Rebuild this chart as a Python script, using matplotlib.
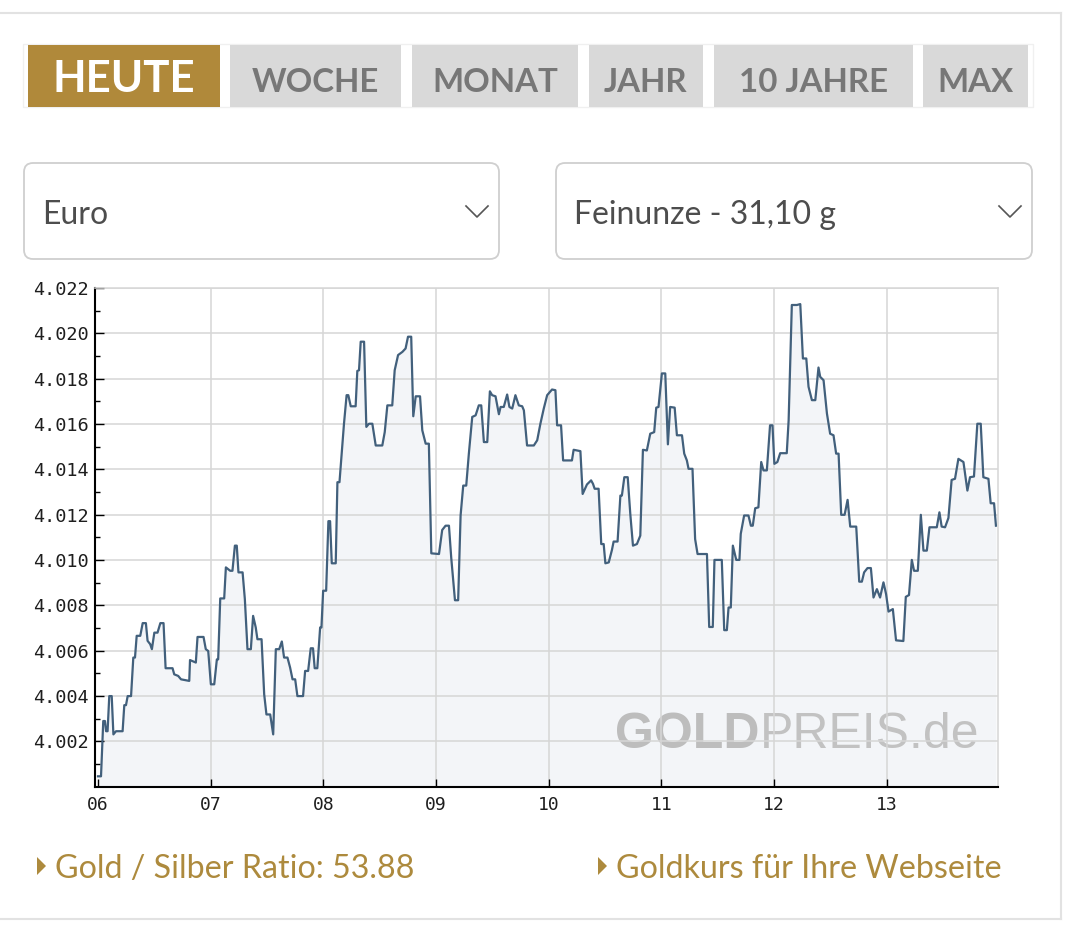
import matplotlib
matplotlib.use("Agg")
import matplotlib.pyplot as plt
from matplotlib.patches import Rectangle, FancyBboxPatch, Polygon

#------------------------------------------------------------------------------------#

# Goldkurs heute (Euro je Feinunze, in Tausend), Zeit in Minuten ab 06:00
minuten = [
    0.0, 1.6, 2.8, 3.7, 4.3, 5.1, 6.0, 7.3, 8.2, 9.6,
    13.1, 14.0, 14.9, 15.8, 17.6, 18.8, 19.7, 20.6, 22.5, 23.8,
    25.5, 26.4, 27.8, 28.7, 30.0, 31.7, 33.2, 34.9, 36.0, 39.7,
    40.6, 42.7, 44.2, 48.6, 49.0, 52.1, 53.0, 56.2, 57.4, 58.7,
    60.1, 61.9, 63.3, 64.0, 65.1, 67.2, 68.1, 70.4, 71.6, 72.9,
    73.9, 74.8, 77.0, 78.2, 79.6, 81.4, 82.6, 84.0, 84.9, 87.1,
    88.5, 89.7, 91.7, 93.3, 94.7, 96.5, 97.9, 99.1, 100.9, 102.3,
    103.6, 105.0, 106.2, 109.2, 110.3, 111.9, 113.3, 114.5, 115.4, 116.8,
    118.3, 119.0, 119.9, 121.5, 122.7, 123.6, 124.5, 126.6, 127.5, 128.6,
    131.0, 132.4, 133.3, 134.6, 137.2, 138.1, 139.0, 139.9, 141.7, 142.9,
    144.3, 146.1, 147.9, 151.4, 152.7, 154.1, 156.7, 158.0, 159.8, 162.1,
    163.8, 165.1, 166.8, 167.9, 169.2, 171.5, 172.7, 174.5, 176.2, 177.5,
    181.6, 183.3, 185.1, 186.9, 188.1, 190.1, 191.8, 193.1, 194.5, 196.1,
    197.5, 199.3, 201.1, 202.8, 204.1, 205.5, 207.3, 208.7, 209.9, 211.7,
    213.5, 214.4, 216.1, 217.9, 219.1, 220.6, 222.3, 224.1, 225.9, 226.8,
    228.5, 232.1, 233.9, 235.6, 237.4, 239.2, 241.8, 243.6, 244.5,
    246.6, 247.7, 252.4, 253.3, 256.9, 258.1, 260.4, 262.6, 263.6, 264.5,
    266.6, 268.0, 269.3, 270.2, 272.0, 273.7, 274.6, 276.7, 278.2, 279.0,
    280.3, 282.1, 283.5, 284.9, 287.0, 288.8, 290.2, 292.3, 294.1, 296.2,
    297.3, 298.5, 300.3, 302.1, 303.5, 304.7, 307.1, 308.3, 311.0, 312.2,
    313.6, 314.5, 316.6, 318.0, 319.3, 324.3, 325.5, 327.4, 328.3, 332.2,
    333.5, 334.9, 335.8, 337.0, 338.1, 339.9, 341.6, 342.3, 344.1, 346.4,
    347.7, 348.7, 350.0, 351.7, 353.2, 354.4, 356.2, 357.9, 359.2, 360.2,
    361.8, 363.3, 366.8,
    367.8, 369.5, 372.2, 374.0, 375.4, 377.2, 378.4, 380.2, 382.0, 383.7,
    384.6, 386.4, 388.2, 389.9, 391.7, 393.1, 394.4, 395.8, 397.6, 399.2,
    400.6, 403.8, 405.4, 406.8, 408.0, 409.8, 411.6, 413.0, 414.8, 416.5,
    418.3, 419.7, 421.0, 423.3, 425.0, 428.9, 430.2, 431.9, 433.4, 434.6,
    436.6, 438.2, 439.6, 441.4, 442.8, 446.7, 448.1, 449.3, 451.1, 452.9,
    454.6, 456.4, 458.2, 460.9, 463.0, 464.4, 466.5, 468.3, 470.1, 471.5,
    474.2, 475.4, 477.2, 478.2,
]

preise = [
    4.00045, 4.00045, 4.00289, 4.00289, 4.00244, 4.00244, 4.00399, 4.00399, 4.00230, 4.00244,
    4.00244, 4.00359, 4.00359, 4.00399, 4.00399, 4.00569, 4.00569, 4.00665, 4.00665, 4.00721,
    4.00721, 4.00643, 4.00628, 4.00606, 4.00679, 4.00679, 4.00721, 4.00721, 4.00522, 4.00522,
    4.00495, 4.00488, 4.00473, 4.00466, 4.00558, 4.00547, 4.00660, 4.00660, 4.00606, 4.00598,
    4.00451, 4.00451, 4.00561, 4.00561, 4.00830, 4.00830, 4.00967, 4.00952, 4.00952, 4.01063,
    4.01063, 4.00945, 4.00945, 4.00827, 4.00606, 4.00606, 4.00753, 4.00702, 4.00650, 4.00650,
    4.00407, 4.00318, 4.00318, 4.00230, 4.00606, 4.00606, 4.00640, 4.00569, 4.00569, 4.00525,
    4.00473, 4.00473, 4.00399, 4.00399, 4.00510, 4.00510, 4.00610, 4.00610, 4.00522, 4.00522,
    4.00702, 4.00702, 4.00864, 4.00864, 4.01171, 4.01171, 4.00985, 4.00985, 4.01343, 4.01343,
    4.01601, 4.01727, 4.01727, 4.01678, 4.01678, 4.01834, 4.01837, 4.01963, 4.01963, 4.01587,
    4.01601, 4.01601, 4.01505, 4.01505, 4.01564, 4.01682, 4.01682, 4.01837, 4.01904, 4.01918,
    4.01933, 4.01985, 4.01985, 4.01634, 4.01722, 4.01722, 4.01572, 4.01513, 4.01513, 4.01029,
    4.01026, 4.01132, 4.01151, 4.01151, 4.01011, 4.00822, 4.00822, 4.01196, 4.01328, 4.01328,
    4.01469, 4.01631, 4.01638, 4.01682, 4.01682, 4.01520, 4.01520, 4.01744, 4.01727, 4.01722,
    4.01643, 4.01675, 4.01675, 4.01730, 4.01675, 4.01668, 4.01727, 4.01682, 4.01678, 4.01660,
    4.01505, 4.01505, 4.01528, 4.01601, 4.01668, 4.01727, 4.01752, 4.01749, 4.01594,
    4.01594, 4.01439, 4.01439, 4.01486, 4.01480, 4.01291, 4.01333, 4.01351, 4.01336, 4.01314,
    4.01314, 4.01070, 4.01070, 4.00985, 4.00989, 4.01044, 4.01081, 4.01081, 4.01284, 4.01284,
    4.01365, 4.01365, 4.01200, 4.01063, 4.01070, 4.01107, 4.01486, 4.01483, 4.01557, 4.01564,
    4.01672, 4.01675, 4.01823, 4.01823, 4.01510, 4.01675, 4.01672, 4.01550, 4.01550, 4.01469,
    4.01439, 4.01402, 4.01402, 4.01092, 4.01026, 4.01026, 4.00704, 4.00704, 4.01000, 4.01000,
    4.00690, 4.00690, 4.00790, 4.00790, 4.01063, 4.01000, 4.01000, 4.01115, 4.01196, 4.01196,
    4.01151, 4.01151, 4.01228, 4.01232, 4.01432, 4.01395, 4.01395, 4.01594, 4.01594, 4.01424,
    4.01432, 4.01471, 4.01471,
    4.01616, 4.02125, 4.02125, 4.02129, 4.01889, 4.01889, 4.01764, 4.01705, 4.01705, 4.01849,
    4.01808, 4.01793, 4.01646, 4.01557, 4.01550, 4.01469, 4.01469, 4.01199, 4.01199, 4.01265,
    4.01147, 4.01147, 4.00904, 4.00904, 4.00945, 4.00964, 4.00964, 4.00834, 4.00871, 4.00834,
    4.00901, 4.00849, 4.00772, 4.00783, 4.00645, 4.00642, 4.00837, 4.00845, 4.01000, 4.00952,
    4.00952, 4.01199, 4.01041, 4.01041, 4.01144, 4.01144, 4.01210, 4.01147, 4.01144, 4.01185,
    4.01353, 4.01358, 4.01446, 4.01432, 4.01306, 4.01365, 4.01368, 4.01601, 4.01601, 4.01365,
    4.01358, 4.01250, 4.01250, 4.01151,
]

stunden = ["06", "07", "08", "09", "10", "11", "12", "13"]
stunden_min = [0, 60, 120, 180, 240, 300, 360, 420]
y_major = [4.002, 4.004, 4.006, 4.008, 4.010, 4.012, 4.014, 4.016, 4.018, 4.020, 4.022]
y_minor = [4.001, 4.003, 4.005, 4.007, 4.009, 4.011, 4.013, 4.015, 4.017, 4.019, 4.021]

tabs = ["HEUTE", "WOCHE", "MONAT", "JAHR", "10 JAHRE", "MAX"]
auswahl = ["Euro", "Feinunze - 31,10 g"]
links = ["Gold / Silber Ratio: 53.88", "Goldkurs für Ihre Webseite"]

#------------------------------------------------------------------------------------#

GOLD = "#b0893a"
LINK = "#ad8a3d"
GRAU_TAB = "#d9d9d9"
GRAU_TEXT = "#777777"
LINIE = "#42607c"
FLAECHE = "#f3f5f8"
GITTER = "#d6d6d6"

fig = plt.figure(figsize=(10.8, 9.3), dpi=100)
fig.patch.set_facecolor("white")

# Hintergrund-Achse in Pixelkoordinaten fuer die Seitenelemente
bg = fig.add_axes([0, 0, 1, 1])
bg.set_xlim(0, 1080)
bg.set_ylim(930, 0)
bg.axis("off")

# Rahmen der Box
bg.plot([0, 1061], [13, 13], color="#e2e2e2", lw=1.5)
bg.plot([1061, 1061], [13, 919], color="#e2e2e2", lw=1.5)
bg.plot([0, 1061], [919, 919], color="#e2e2e2", lw=1.5)

# Reiter
tab_x = [(28, 220), (230, 401), (412, 578), (589, 703), (714, 913), (923, 1028)]
bg.add_patch(Rectangle((23, 44), 1010, 63, facecolor="none", edgecolor="#f0f0f0", lw=1))
for i, (name, (x0, x1)) in enumerate(zip(tabs, tab_x)):
    aktiv = i == 0
    bg.add_patch(Rectangle((x0, 45), x1 - x0, 62, facecolor=GOLD if aktiv else GRAU_TAB, lw=0))
    bg.text((x0 + x1) / 2, 92, name, ha="center", va="baseline",
            fontfamily="Lato", fontweight="bold",
            fontsize=31.5 if aktiv else 23.8, color="white" if aktiv else GRAU_TEXT)

# Auswahlfelder
felder = [(24, 499), (556, 1032)]
for text, (x0, x1) in zip(auswahl, felder):
    bg.add_patch(FancyBboxPatch((x0, 163), x1 - x0, 96,
                                boxstyle="round,pad=0,rounding_size=9",
                                facecolor="white", edgecolor="#cfcfcf", lw=1.3))
    bg.text(x0 + 18, 224, text, ha="left", va="baseline",
            fontfamily="Lato", fontsize=23, color="#4d4d4d")
    cx = x1 - 22
    bg.plot([cx - 11, cx, cx + 11], [206, 217, 206], color="#555555", lw=1.2)

# Links unten
link_x = [37, 598]
for text, x in zip(links, link_x):
    bg.add_patch(Polygon([(x, 857), (x + 9, 866), (x, 875)], closed=True,
                         facecolor=LINK, lw=0))
    bg.text(x + 18, 878, text, ha="left", va="baseline",
            fontfamily="Lato", fontsize=23.2, color=LINK)

#------------------------------------------------------------------------------------#

# Das eigentliche Diagramm
ax = fig.add_axes([95 / 1080, 1 - 786.5 / 930, (998 - 95) / 1080, (786.5 - 288) / 930])
ax.set_facecolor("white")

ax.fill_between(minuten, preise, 4.0, color=FLAECHE, lw=0, zorder=0.8)
ax.plot(minuten, preise, color=LINIE, lw=1.6, zorder=2)

ax.set_xlim(-1.6, 479.3)
ax.set_ylim(4.000, 4.022)

ax.set_xticks(stunden_min)
ax.set_xticklabels(stunden)
ax.set_yticks(y_major)
ax.set_yticklabels([f"{v:.3f}" for v in y_major])
ax.set_yticks(y_minor, minor=True)

ax.set_axisbelow("line")
ax.yaxis.grid(True, which="major", color=GITTER, lw=1.1)
for m in stunden_min[1:]:
    ax.axvline(m, color=GITTER, lw=1.1, zorder=1.5)

ax.tick_params(axis="x", which="major", direction="in", length=5.8, width=1.0,
               color="black", pad=7, labelsize=13, labelcolor="#1e1e1e")
ax.tick_params(axis="y", which="major", direction="in", length=6.5, width=1.0,
               color="black", pad=4.5, labelsize=13.3, labelcolor="#1e1e1e")
ax.tick_params(axis="y", which="minor", direction="in", length=3.6, width=1.0, color="black")
for lab in ax.get_yticklabels() + ax.get_xticklabels():
    lab.set_fontfamily("DejaVu Sans Mono")

for s in ["left", "bottom"]:
    ax.spines[s].set_color("black")
    ax.spines[s].set_linewidth(1.5)
for s in ["top", "right"]:
    ax.spines[s].set_color(GITTER)
    ax.spines[s].set_linewidth(1.1)

# Wasserzeichen
wz = ax.text(0.576, 0.077, "GOLD", transform=ax.transAxes, ha="left", va="baseline",
             fontfamily="Liberation Sans", fontweight="bold", fontsize=36,
             color="#bdbdbd", zorder=0.9)
ax.annotate("PREIS.de", xy=(1, 0), xycoords=wz, ha="left", va="bottom",
            fontfamily="Liberation Sans", fontsize=36, color="#c2c2c2", zorder=0.9)

fig.savefig("out.png", dpi=100)
